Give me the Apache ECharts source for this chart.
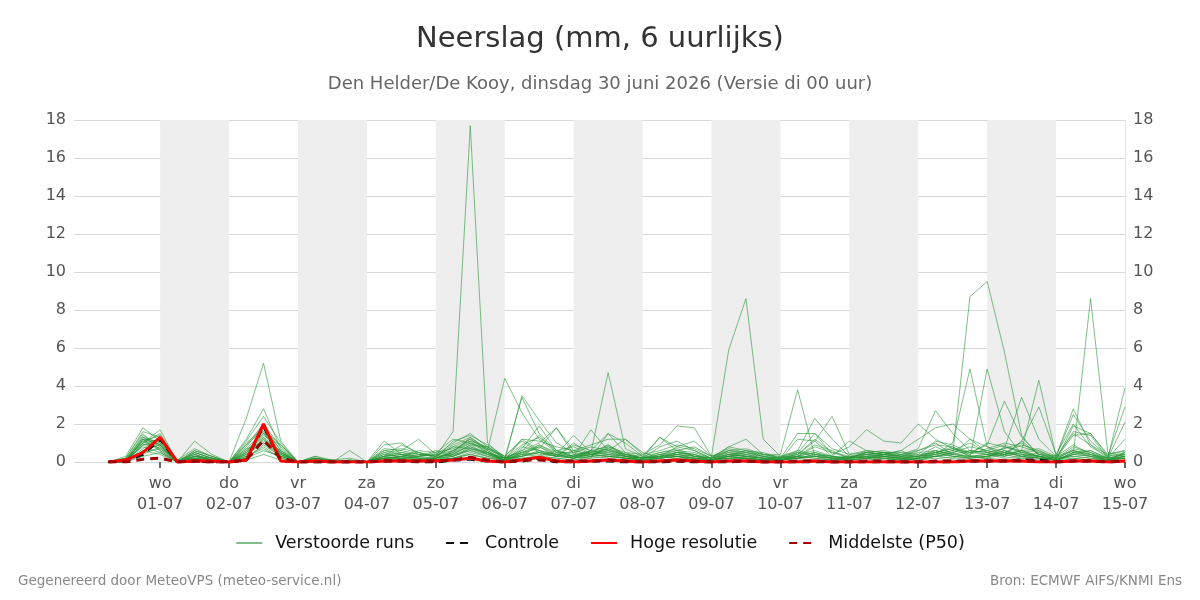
<!DOCTYPE html>
<html>
<head>
<meta charset="utf-8">
<title>Neerslag</title>
<script src="https://cdn.jsdelivr.net/npm/echarts@6/dist/echarts.min.js"></script>
<style>
html,body{margin:0;padding:0;background:#fff;}
#chart{width:1200px;height:600px;}
</style>
</head>
<body>
<div id="chart"></div>
<script>
// tijdstappen: uren na 30-06 00:00, elke 6 uur (30-06 06:00 t/m 15-07 00:00)
var startHour = 6, stepHour = 6, nSteps = 60;
var hours = [];
for (var i = 0; i < nSteps; i++) hours.push(startHour + stepHour * i);

// labels van de x-as (per dag om 00:00)
var tickHours = [24, 48, 72, 96, 120, 144, 168, 192, 216, 240, 264, 288, 312, 336, 360];
var tickDays  = ['wo','do','vr','za','zo','ma','di','wo','do','vr','za','zo','ma','di','wo'];
var tickDates = ['01-07','02-07','03-07','04-07','05-07','06-07','07-07','08-07','09-07','10-07','11-07','12-07','13-07','14-07','15-07'];

// grijze dagbanden (om de dag)
var bandStarts = [24, 72, 120, 168, 216, 264, 312];

// verstoorde runs (mm per 6 uur)
var m01 = [0,0,1.0, 1.2,0,0.3,0.1, 0,0.6,1.5,0.4, 0,0.1,0,0, 0,0.2,0.3,0.5, 0.3,1.6,17.7,1.0, 0.2,0.3,0.5,0.3, 0.2,0.4,0.6,0.3, 0.1,0.3,0.5,0.4, 0.1,0.6,0.4,0.2, 0.1,0.3,0.2,0.1, 0.2,0.3,0.4,0.2, 0.1,0.3,0.5,0.2, 0.3,0.6,0.4,0.2, 0.1,0.5,0.4,0.2, 0.3];
var m02 = [0,0.1,1.3, 0.8,0,0.5,0.2, 0,1.0,1.8,0.6, 0,0.2,0,0, 0,0.6,0.4,0.3, 0.5,1.2,1.0,0.6, 4.4,2.6,1.2,0.5, 0.3,0.6,0.8,0.4, 0.2,0.5,0.7,0.3, 0.2,0.8,0.6,0.3, 0.1,0.4,1.2,0.5, 0.2,0.6,0.5,0.3, 0.3,0.8,0.4,1.2, 0.8,0.5,0.3,0.2, 0.1,0.4,0.3,0.1, 0.5];
var m03 = [0,0,0.9, 1.0,0,0.2,0, 0,0.3,1.2,0.5, 0,0,0,0, 0,0.3,0.2,0.1, 0.2,0.5,1.3,0.6, 0.1,3.5,2.2,1.0, 0.5,0.3,0.9,0.4, 0.2,0.4,0.3,0.2, 0.1,0.3,0.2,0.1, 0.1,0.2,0.4,0.3, 0.1,0.2,0.3,0.1, 0.2,0.4,0.6,1.0, 0.5,0.3,1.1,0.4, 0.2,0.6,0.3,0.1, 0.2];
var m04 = [0,0.2,1.5, 0.6,0,0.6,0.3, 0,0.9,2.0,0.8, 0,0.3,0,0.1, 0,0.9,1.0,0.4, 0.3,0.8,0.7,0.5, 0.2,3.4,1.5,0.6, 0.4,0.5,4.7,0.7, 0.3,0.2,0.5,0.4, 0.2,0.4,0.3,0.2, 0.1,0.5,0.3,0.2, 0.3,0.2,0.4,0.6, 0.2,0.5,0.8,0.3, 0.2,0.8,0.5,0.3, 0.1,1.9,1.5,0.4, 0.6];
var m05 = [0,0,0.6, 0.9,0,0.1,0, 0,0.4,1.0,0.3, 0,0,0,0, 0,0.1,0.2,0.2, 0.1,0.3,0.8,0.4, 0.1,0.8,0.6,0.4, 0.2,0.3,0.4,0.2, 0.1,0.4,0.6,0.8, 0.3,5.9,8.6,1.2, 0.3,0.5,0.4,0.2, 0.1,0.4,0.3,0.2, 0.3,0.6,0.4,0.3, 0.2,0.4,0.6,0.3, 0.1,0.3,0.2,0.1, 0.3];
var m06 = [0,0.1,1.1, 1.4,0.1,0.4,0.1, 0,0.5,1.4,0.9, 0,0.1,0,0, 0,0.4,0.5,0.3, 0.2,0.6,1.0,0.7, 0.3,1.1,0.5,0.3, 0.6,0.4,0.3,0.2, 0.1,0.2,0.4,0.3, 0.1,0.4,0.6,0.4, 0.4,3.8,0.3,0.2, 0.3,0.2,0.4,0.3, 0.6,1.0,0.4,8.7, 9.5,5.8,1.4,0.3, 0.1,0.5,0.3,0.2, 0.4];
var m07 = [0,0,0.5, 0.7,0,0.2,0, 0,0.2,0.9,0.3, 0,0,0,0, 0,0.2,0.1,0.1, 0.1,0.4,0.6,0.3, 0.1,0.5,0.9,0.4, 0.2,0.6,0.5,0.3, 0.1,0.2,0.3,0.1, 0.1,0.2,0.3,0.1, 0.2,0.3,0.5,0.2, 0.1,0.2,0.2,0.1, 0.2,0.4,1.0,4.9, 0.8,0.3,0.6,4.3, 0.3,0.6,0.4,0.1, 0.2];
var m08 = [0,0,1.2, 0.9,0,0.3,0.2, 0,0.7,1.6,0.5, 0,0.1,0,0.1, 0,0.5,0.6,0.4, 0.3,0.8,1.2,0.7, 0.2,0.9,1.3,0.6, 0.3,0.2,1.5,0.5, 0.2,0.3,0.4,0.3, 0.2,0.3,0.2,0.1, 0.1,0.3,0.2,0.1, 0.2,0.3,0.5,0.2, 0.3,0.4,0.3,0.2, 4.9,1.6,0.4,0.3, 0.2,0.8,0.5,0.2, 0.4];
var m09 = [0,0.1,0.8, 0.5,0,0.1,0, 0,0.3,0.8,0.2, 0,0,0,0, 0,0.1,0.3,0.2, 0.1,0.2,0.5,0.3, 0.1,0.4,0.3,0.2, 0.1,0.2,0.3,0.2, 0.1,0.2,0.3,0.2, 0.1,0.2,0.1,0.1, 0.1,0.2,0.1,0.1, 0.1,0.2,0.1,0.1, 0.2,0.3,0.2,0.6, 0.4,0.2,0.3,0.5, 0.1,0.4,8.6,0.5, 0.3];
var m10 = [0,0.3,1.8, 1.1,0,0.6,0.3, 0,2.3,5.2,1.1, 0,0.3,0.1,0, 0,0.7,0.6,1.2, 0.4,0.6,1.1,0.5, 0.1,0.4,0.8,0.3, 0.9,0.6,0.4,0.3, 0.2,0.8,1.1,0.6, 0.2,0.4,0.3,0.2, 0.1,1.2,1.1,0.3, 0.2,0.5,0.4,0.3, 0.5,0.6,0.3,0.2, 0.3,0.5,0.9,0.6, 0.2,0.3,0.2,0.1, 0.2];
var m11 = [0,0.2,1.0, 1.7,0,0.4,0.1, 0,1.2,2.8,0.7, 0,0.2,0,0, 0,0.3,0.9,0.5, 0.3,0.4,0.9,0.8, 0.2,0.6,1.4,0.5, 0.3,1.7,0.6,0.4, 0.2,0.3,0.5,0.3, 0.1,0.3,0.5,0.4, 0.2,0.4,0.6,0.3, 0.2,0.4,0.3,0.4, 0.3,0.6,0.4,0.6, 0.5,0.7,3.4,1.2, 0.3,0.9,0.4,0.2, 3.9];
var m12 = [0,0,0.7, 1.3,0,0.5,0.2, 0,0.5,1.6,0.4, 0,0.1,0.1,0, 0,0.4,0.3,0.6, 0.5,0.7,1.1,0.8, 0.3,0.5,0.7,1.8, 0.4,0.3,0.8,0.5, 0.4,0.9,1.9,1.8, 0.3,0.6,0.5,0.3, 0.2,0.6,2.3,1.2, 0.3,0.4,0.5,0.3, 0.4,0.5,0.7,0.3, 0.4,0.6,0.3,0.2, 0.1,0.4,0.6,0.2, 1.2];
var m13 = [0,0.1,1.4, 0.9,0,0.2,0.1, 0,0.8,1.9,0.6, 0,0.2,0,0, 0,0.3,0.4,0.2, 0.2,0.5,0.8,0.5, 0.2,0.4,0.5,0.4, 1.4,0.5,0.9,0.3, 0.2,1.3,0.6,0.5, 0.2,0.5,0.3,0.2, 0.2,0.4,1.1,2.4, 0.4,0.5,0.6,0.4, 0.7,2.7,1.5,0.6, 0.5,0.4,1.1,2.9, 0.4,2.0,0.8,0.3, 2.9];
var m14 = [0,0,1.2, 0.6,0,0.4,0.1, 0,0.6,1.3,0.5, 0,0.1,0,0, 0,0.2,0.3,0.2, 0.2,0.3,0.6,0.4, 0.1,0.7,1.9,0.6, 0.3,0.4,0.7,0.3, 0.2,0.4,0.5,0.4, 0.1,0.3,0.6,0.5, 0.2,0.5,1.5,0.4, 0.8,1.7,1.1,1.0, 2.0,1.2,0.7,0.5, 0.9,3.2,1.3,0.4, 0.2,1.6,1.4,0.2, 0.3];
var m15 = [0,0.1,1.3, 1.0,0,0.3,0.2, 0,0.4,1.1,0.6, 0,0.2,0.1,0, 0,0.5,0.2,0.3, 0.6,0.3,0.7,0.5, 0.1,0.3,0.9,0.5, 0.5,0.8,0.6,0.4, 0.2,0.3,0.8,1.1, 0.3,0.5,0.4,0.2, 0.1,0.3,0.9,0.6, 0.2,0.5,0.4,0.3, 0.3,0.4,0.6,0.4, 1.0,0.8,0.6,0.7, 0.3,2.8,0.9,0.2, 2.1];
var m16 = [0,0,0.4, 0.8,0,1.1,0.4, 0,0.3,0.7,0.2, 0,0.1,0,0.6, 0,0.2,0.1,0.1, 0.1,0.2,0.4,0.2, 0.1,1.2,0.6,0.3, 1.0,0.4,0.6,1.2, 0.5,0.2,0.3,0.1, 0.1,0.2,0.2,0.1, 0.1,0.2,0.3,0.2, 0.1,0.2,0.3,0.2, 0.1,0.3,0.2,0.2, 0.3,0.4,0.2,0.3, 0.1,0.2,0.1,0.1, 0.5];
var m17 = [0,0.1,1.1, 0.7,0.1,0.7,0.3, 0,0.9,1.7,0.9, 0,0.1,0,0.1, 0,1.1,0.4,0.3, 0.4,1.0,1.5,0.8, 0.2,0.3,0.6,0.4, 0.2,0.5,0.7,0.4, 0.3,1.3,0.8,0.6, 0.2,0.8,1.2,0.4, 0.3,0.6,0.4,0.3, 1.1,0.6,0.3,0.2, 0.3,0.5,0.7,0.5, 0.4,0.3,0.5,0.3, 0.2,0.6,0.4,0.1, 0.3];
var m18 = [0,0,0.9, 1.2,0,0.2,0.1, 0,0.4,1.5,0.5, 0,0,0,0, 0,0.3,0.5,0.4, 0.3,0.9,1.3,0.7, 0.2,0.5,0.4,0.3, 0.3,0.6,1.5,1.0, 0.3,0.5,0.6,0.3, 0.2,0.6,0.7,0.4, 0.2,0.3,0.8,0.5, 0.3,0.4,0.5,0.5, 0.4,1.1,0.9,0.5, 0.6,0.9,0.5,0.6, 0.2,1.4,1.5,0.3, 0.5];
var m19 = [0,0,1.0, 1.5,0,0.1,0, 0,0.2,1.3,0.4, 0,0,0,0, 0,0.2,0.3,0.1, 0.2,0.4,0.9,0.4, 0.1,0.2,0.3,0.6, 0.8,0.4,0.3,0.2, 0.1,0.2,0.4,0.2, 0.1,0.3,0.2,0.1, 0.3,0.2,0.4,0.2, 0.2,0.5,0.4,0.6, 1.2,1.8,2.0,1.2, 0.5,0.7,1.0,0.4, 0.3,2.5,1.1,0.3, 0.4];
var m20 = [0,0,0.3, 0.5,0,0.1,0.1, 0,0.1,0.4,0.1, 0,0,0,0, 0,0.1,0.1,0.1, 0.1,0.2,0.4,0.2, 0.1,0.2,0.3,0.2, 0.1,0.3,0.2,0.1, 0.1,0.1,0.2,0.1, 0,0.1,0.2,0.1, 0,0.1,0.1,0.1, 0,0.1,0.2,0.1, 0.1,0.2,0.1,0.1, 0.2,0.1,0.2,0.1, 0,0.2,0.1,0.1, 0.1];
var m21 = [0,0.2,1.6, 1.3,0,0.5,0.2, 0,1.1,2.4,1.0, 0,0.2,0.1,0.2, 0,0.6,0.7,0.5, 0.2,1.1,1.4,0.9, 0.3,1.2,1.1,0.8, 0.6,0.9,1.2,1.2, 0.4,0.6,0.9,0.7, 0.3,0.7,0.5,0.3, 0.2,1.5,1.5,0.7, 0.4,0.6,0.5,0.4, 0.6,0.9,0.8,0.4, 0.7,1.0,0.8,0.5, 0.3,1.5,0.9,0.4, 0.6];
var m22 = [0,0,0.6, 0.4,0,0.3,0.1, 0,0.2,0.6,0.3, 0,0,0,0, 0,0.2,0.2,0.3, 0.4,0.3,0.7,0.4, 0.2,0.6,1.0,1.8, 0.6,0.4,0.3,0.2, 0.1,0.2,0.3,0.2, 0.1,0.3,0.4,0.3, 0.1,0.3,0.5,0.3, 0.2,0.3,0.2,0.1, 0.2,0.3,0.4,0.3, 0.3,0.5,0.3,0.2, 0.1,0.5,0.6,0.2, 0.2];
var m23 = [0,0.1,0.9, 0.9,0,0.3,0.1, 0,0.5,1.2,0.3, 0,0.1,0,0, 0,0.3,0.4,0.2, 0.2,0.5,1.0,0.5, 0.1,0.3,0.5,0.3, 0.2,0.4,0.5,0.3, 0.2,0.3,0.4,0.2, 0.1,0.4,0.3,0.2, 0.1,0.2,0.3,0.2, 0.2,0.3,0.2,0.2, 0.3,0.5,0.3,0.3, 0.4,0.5,0.4,0.3, 0.1,0.7,0.5,0.1, 0.3];
var m24 = [0,0,1.2, 1.1,0,0.2,0.1, 0,0.7,1.0,0.4, 0,0.1,0,0, 0,0.2,0.2,0.1, 0.1,0.6,1.2,0.6, 0.1,0.5,0.8,0.4, 0.3,0.5,0.4,0.3, 0.1,0.3,0.2,0.2, 0.1,0.2,0.2,0.1, 0.1,0.2,0.3,0.1, 0.1,0.2,0.3,0.2, 0.2,0.3,0.5,0.8, 0.6,0.4,0.6,0.3, 0.1,0.4,0.3,0.1, 0.2];
var members = [m01,m02,m03,m04,m05,m06,m07,m08,m09,m10,m11,m12,m13,m14,m15,m16,m17,m18,m19,m20,m21,m22,m23,m24];

// controle run, hoge resolutie, mediaan
var controle = [0,0.05,0.4, 1.2,0,0.05,0, 0,0.1,1.9,0.05, 0,0,0,0, 0,0.05,0.05,0, 0,0.1,0.15,0.05, 0,0.05,0.2,0, 0,0.05,0.05,0, 0,0,0.05,0, 0,0,0.05,0, 0,0,0,0, 0,0,0,0, 0,0,0,0.05, 0.05,0.05,0.1,0.1, 0,0.05,0.05,0, 0.05];
var hogeRes  = [0,0.1,0.5, 1.3,0,0.05,0.05, 0,0.1,2.0,0.05, 0,0.05,0,0, 0,0.05,0.05,0.05, 0.05,0.1,0.2,0.05, 0,0.1,0.25,0.05, 0,0.05,0.1,0.05, 0,0.05,0.1,0.05, 0,0.05,0.05,0, 0,0,0.05,0, 0,0,0,0, 0,0,0,0.05, 0.05,0.05,0.05,0, 0,0.05,0.05,0, 0.05];
var p50      = [0,0,0.15, 0.2,0,0.05,0, 0,0.1,1.15,0.2, 0,0,0,0, 0,0.05,0.05,0.05, 0.05,0.1,0.25,0.1, 0,0.1,0.1,0.05, 0.05,0.05,0.1,0.05, 0,0.05,0.05,0.05, 0,0.05,0.05,0, 0,0.05,0.05,0, 0,0.05,0.05,0, 0,0.05,0.05,0.05, 0.05,0.05,0.05,0.05, 0,0.05,0.05,0, 0.05];

function pairs(vals){
	return vals.map(function(v, i){ return [hours[i], v]; });
}

var FONT = 'DejaVu Sans';
var series = [];

// dagbanden
series.push({
	type: 'line',
	data: [],
	silent: true,
	markArea: {
		silent: true,
		itemStyle: { color: '#eeeeee' },
		data: bandStarts.map(function(s){ return [{ xAxis: s }, { xAxis: s + 24 }]; })
	}
});

members.forEach(function(m){
	series.push({
		name: 'Verstoorde runs',
		type: 'line',
		data: pairs(m),
		symbol: 'none',
		color: '#6cbf6f',
		lineStyle: { color: 'rgba(40,150,55,0.6)', width: 1 },
		emphasis: { disabled: true }
	});
});
series.push({
	name: 'Controle',
	type: 'line',
	data: pairs(controle),
	symbol: 'none',
	color: '#111',
	lineStyle: { color: '#111', width: 3, type: [8, 6] },
	emphasis: { disabled: true }
});
series.push({
	name: 'Hoge resolutie',
	type: 'line',
	data: pairs(hogeRes),
	symbol: 'none',
	color: '#ff0000',
	lineStyle: { color: '#ff0000', width: 3 },
	emphasis: { disabled: true }
});
series.push({
	name: 'Middelste (P50)',
	type: 'line',
	data: pairs(p50),
	symbol: 'none',
	color: '#a00000',
	lineStyle: { color: '#a00000', width: 3, type: [8, 6] },
	emphasis: { disabled: true }
});

var option = {
	animation: false,
	textStyle: { fontFamily: FONT },
	title: [
		{ text: 'Neerslag (mm, 6 uurlijks)', left: 'center', top: 20,
		  textStyle: { fontFamily: FONT, fontSize: 29, fontWeight: 'normal', color: '#333' } },
		{ text: 'Den Helder/De Kooy, dinsdag 30 juni 2026 (Versie di 00 uur)', left: 'center', top: 70,
		  textStyle: { fontFamily: FONT, fontSize: 18, fontWeight: 'normal', color: '#666' } },
		{ text: 'Gegenereerd door MeteoVPS (meteo-service.nl)', left: 13, top: 569,
		  textStyle: { fontFamily: FONT, fontSize: 13.5, fontWeight: 'normal', color: '#888' } },
		{ text: 'Bron: ECMWF AIFS/KNMI Ens', right: 13, top: 569,
		  textStyle: { fontFamily: FONT, fontSize: 13.5, fontWeight: 'normal', color: '#888' } }
	],
	legend: {
		data: ['Verstoorde runs', 'Controle', 'Hoge resolutie', 'Middelste (P50)'],
		left: 'center',
		top: 529,
		itemWidth: 26,
		itemHeight: 14,
		itemGap: 31,
		itemStyle: { opacity: 0 },
		textStyle: { fontFamily: FONT, fontSize: 17.5, color: '#111', padding: [0, 0, 0, 8] }
	},
	grid: { left: 74, right: 75, top: 120, bottom: 138 },
	xAxis: {
		type: 'value',
		min: -6,
		max: 360,
		axisLine: { show: false },
		splitLine: { show: false },
		axisTick: { show: true, customValues: tickHours, length: 6, lineStyle: { color: '#666', width: 2 } },
		axisLabel: {
			customValues: tickHours,
			fontFamily: FONT,
			fontSize: 16,
			color: '#555',
			lineHeight: 21,
			margin: 11,
			formatter: function(v){
				var k = tickHours.indexOf(v);
				return k < 0 ? '' : tickDays[k] + '\n' + tickDates[k];
			}
		}
	},
	yAxis: [
		{
			type: 'value', min: 0, max: 18, interval: 2,
			axisLine: { show: false }, axisTick: { show: false },
			splitLine: { lineStyle: { color: '#d9d9d9', width: 1 } },
			axisLabel: { fontFamily: FONT, fontSize: 16, color: '#555', margin: 8 }
		},
		{
			type: 'value', min: 0, max: 18, interval: 2, position: 'right',
			axisLine: { show: true, lineStyle: { color: '#e6e6e6' } }, axisTick: { show: false },
			splitLine: { show: false },
			axisLabel: { fontFamily: FONT, fontSize: 16, color: '#555', margin: 8 }
		}
	],
	series: series
};

var myChart = echarts.init(document.getElementById('chart'));
myChart.setOption(option);
</script>
</body>
</html>
